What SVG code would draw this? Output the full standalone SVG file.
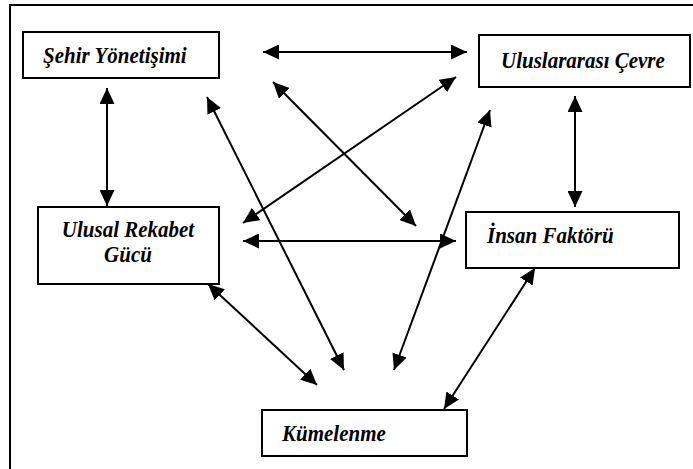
<svg xmlns="http://www.w3.org/2000/svg" width="693" height="469" viewBox="0 0 693 469">
<style>
.box{fill:#fff;stroke:#000;stroke-width:2}
.lbl{font-family:"Liberation Serif","Times New Roman",serif;font-weight:bold;font-style:italic;font-size:21px;fill:#000}
.conn line{stroke:#000;stroke-width:2;marker-start:url(#ah);marker-end:url(#ah)}
</style>
<defs>
<marker id="ah" markerUnits="userSpaceOnUse" markerWidth="16" markerHeight="15" refX="16" refY="7.5" orient="auto-start-reverse" viewBox="0 0 16 15">
<path d="M0,0 L16,7.5 L0,15 Z" fill="#000"/>
</marker>
</defs>
<rect x="0" y="0" width="693" height="469" fill="#fff"/>
<path d="M10,469 V5 H693" fill="none" stroke="#000" stroke-width="2"/>
<g id="sehir">
<rect class="box" x="23" y="32" width="196" height="46"/>
<text class="lbl" transform="translate(43,63) scale(1,1.12)">Şehir Yönetişimi</text>
</g>
<g id="uluslararasi">
<rect class="box" x="479" y="35" width="211" height="52"/>
<text class="lbl" transform="translate(501,68) scale(1,1.12)">Uluslararası Çevre</text>
</g>
<g id="ulusal">
<rect class="box" x="38" y="207" width="181" height="77"/>
<text class="lbl" transform="translate(128,237) scale(1,1.12)" text-anchor="middle">Ulusal Rekabet</text>
<text class="lbl" transform="translate(128,262) scale(1,1.12)" text-anchor="middle">Gücü</text>
</g>
<g id="insan">
<rect class="box" x="466" y="212" width="213" height="56"/>
<text class="lbl" transform="translate(487,243) scale(1,1.12)">İnsan Faktörü</text>
</g>
<g id="kumelenme">
<rect class="box" x="262" y="410" width="205" height="46"/>
<text class="lbl" transform="translate(282,441) scale(1,1.12)">Kümelenme</text>
</g>
<g id="connectors" class="conn">
<line x1="263" y1="52" x2="467" y2="52"/>
<line x1="107" y1="88" x2="107" y2="206"/>
<line x1="575" y1="96" x2="575" y2="207"/>
<line x1="243" y1="241" x2="456" y2="241"/>
<line x1="243" y1="223" x2="456" y2="77"/>
<line x1="273" y1="82" x2="416" y2="226"/>
<line x1="207" y1="97" x2="344" y2="370"/>
<line x1="490" y1="110" x2="394" y2="370"/>
<line x1="208" y1="284" x2="317" y2="385"/>
<line x1="535" y1="268" x2="444" y2="409"/>
</g>
</svg>
